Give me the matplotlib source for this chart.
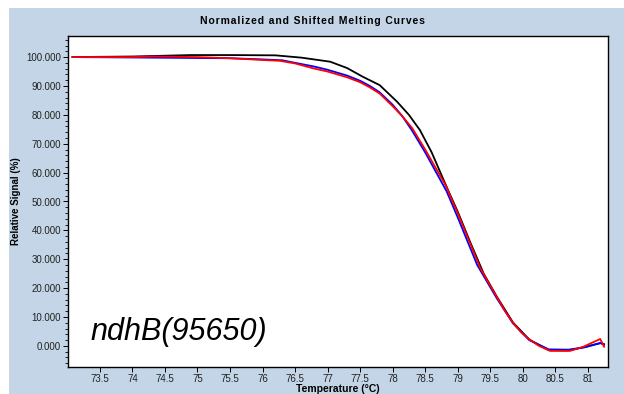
import matplotlib
matplotlib.use("Agg")
import matplotlib.pyplot as plt
from matplotlib.patches import Rectangle
from matplotlib.ticker import MultipleLocator, FormatStrFormatter

plt.rcParams["font.family"] = ["Liberation Sans", "DejaVu Sans"]

# temperature (deg C) / relative signal (%)
black_t = [73.08, 74.0, 74.9, 75.5, 76.2, 76.6, 77.04, 77.3, 77.54, 77.8, 78.07,
           78.25, 78.42, 78.6, 78.85, 79.0, 79.2, 79.4, 79.6, 79.85, 80.1,
           80.4, 80.7, 80.95, 81.2, 81.25]
black_y = [100.0, 100.2, 100.7, 100.7, 100.6, 99.8, 98.4, 96.2, 93.2, 90.3, 84.5,
           80.0, 74.7, 67.0, 54.0, 46.5, 35.5, 25.0, 17.1, 8.1, 2.2,
           -1.5, -1.6, -0.4, 1.0, 0.6]

blue_t = [73.08, 74.35, 74.9, 75.5, 76.0, 76.3, 76.8, 77.0, 77.3, 77.5, 77.65,
          77.8, 78.0, 78.15, 78.3, 78.5, 78.83, 79.0, 79.3, 79.6, 79.85,
          80.1, 80.4, 80.7, 80.95, 81.19, 81.25]
blue_y = [100.0, 99.8, 99.7, 99.6, 99.2, 98.9, 96.7, 95.6, 93.6, 91.8, 90.0,
          87.8, 83.5, 79.5, 74.5, 67.0, 53.5, 44.5, 28.0, 16.5, 7.8,
          2.0, -1.2, -1.3, -0.5, 1.0, 0.4]

red_t = [73.08, 74.0, 74.35, 75.0, 75.5, 76.0, 76.27, 76.5, 76.78, 77.0, 77.3,
         77.5, 77.65, 77.8, 78.0, 78.15, 78.3, 78.5, 78.83, 78.91, 79.0,
         79.34, 79.47, 79.6, 79.72, 79.85, 79.98, 80.11, 80.25, 80.42, 80.73,
         80.93, 81.19, 81.25]
red_y = [100.0, 100.0, 100.2, 100.0, 99.6, 99.0, 98.7, 97.8, 96.1, 95.0, 93.0,
         91.3, 89.5, 87.4, 83.0, 79.5, 75.4, 68.0, 55.0, 50.5, 46.0,
         27.3, 22.0, 17.0, 12.3, 8.0, 4.6, 2.1, 0.0, -1.7, -1.7,
         -0.3, 2.4, -0.3]

x_ticks = [73.5, 74, 74.5, 75, 75.5, 76, 76.5, 77, 77.5, 78, 78.5, 79, 79.5, 80, 80.5, 81]
x_tick_labels = ["73.5", "74", "74.5", "75", "75.5", "76", "76.5", "77", "77.5",
                 "78", "78.5", "79", "79.5", "80", "80.5", "81"]

title = "Normalized and Shifted Melting Curves"

W, H = 624, 394
fig = plt.figure(figsize=(W / 100, H / 100), dpi=100)
fig.patch.set_facecolor("white")
panel = Rectangle((9 / W, 0), (W - 9) / W, (H - 8) / H, transform=fig.transFigure,
                  facecolor="#c3d5e6", edgecolor="none", zorder=-10)
fig.add_artist(panel)

ax = fig.add_axes([68 / W, 1 - 367 / H, (608 - 68) / W, (367 - 36) / H])
ax.set_facecolor("white")
ax.set_zorder(1)

ax.plot(black_t, black_y, color="black", lw=1.3, zorder=3)
ax.plot(blue_t, blue_y, color="blue", lw=1.3, zorder=4)
ax.plot(red_t, red_y, color="red", lw=1.3, zorder=5)

ax.set_xlim(73.01, 81.31)
ax.set_ylim(-7.3, 107.3)

ax.set_xticks(x_ticks)
ax.set_xticklabels(x_tick_labels)
ax.yaxis.set_major_locator(MultipleLocator(10))
ax.yaxis.set_minor_locator(MultipleLocator(2))
ax.yaxis.set_major_formatter(FormatStrFormatter("%.3f"))

ax.tick_params(axis="both", which="major", labelsize=7, length=3.5, width=0.7,
               pad=1.5, colors="black", labelcolor="#222222")
ax.tick_params(axis="y", which="minor", length=2, width=0.6)
for s in ax.spines.values():
    s.set_linewidth(1.0)
    s.set_color("black")

ax.set_xlabel("Temperature (°C)", fontsize=7.5, fontweight="bold", labelpad=0)
ax.set_ylabel("Relative Signal (%)", fontsize=7, fontweight="bold", labelpad=4)

# spread the title letters a little, like the original
fig.text(0.5, 1 - 21 / H, "\u200a".join(title), ha="center", va="center",
         fontsize=7.5, fontweight="bold")

ax.text(73.35, 2.1, "ndhB(95650)", fontsize=22, style="italic", ha="left",
        va="baseline", zorder=6)

fig.savefig("out.png", dpi=100)
